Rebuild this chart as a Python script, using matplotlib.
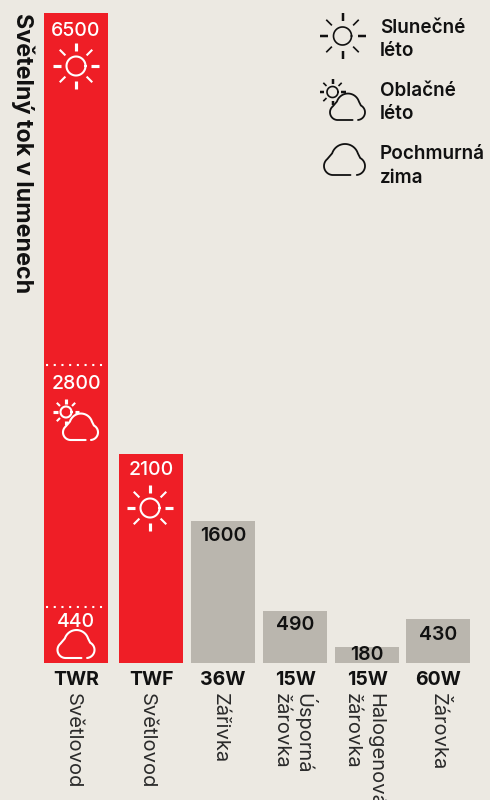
import numpy as np
import matplotlib
matplotlib.use('Agg')
import matplotlib.pyplot as plt

plt.rcParams['font.family'] = ['Inter', 'DejaVu Sans']

# data (the original bars are not drawn to scale,
# so the drawn heights are kept apart from the printed lumens)
categories = ['TWR', 'TWF', '36W', '15W', '15W', '60W']
lamp_types = [['Světlovod'], ['Světlovod'], ['Zářivka'], ['Úsporná', 'žárovka'],
              ['Halogenová', 'žárovka'], ['Žárovka']]
lumens = [6500, 2100, 1600, 490, 180, 430]
bar_heights = [650, 209, 142, 52, 16, 44]
twr_lumens = [2800, 440]
twr_heights = [298, 56]
legend_labels = [['Slunečné', 'léto'], ['Oblačné', 'léto'], ['Pochmurná', 'zima']]

BG = '#ECE9E2'
RED = '#EF1E26'
GREY = '#BAB6AE'
INK = '#111111'
BASE_Y = 663


def py(y):
    # picture row to axes y
    return BASE_Y - y


def draw_sun(ax, cx, cy, r, r1, r2, color, lw, z=5):
    ax.plot(cx + r * np.cos(np.linspace(0, 2 * np.pi, 80)),
            py(cy) + r * np.sin(np.linspace(0, 2 * np.pi, 80)), color=color, lw=lw, zorder=z)
    for i in range(8):
        a = i * np.pi / 4
        width = lw * 1.5 if i % 2 == 0 else lw
        ax.plot([cx + r1 * np.cos(a), cx + r2 * np.cos(a)],
                [py(cy) + r1 * np.sin(a), py(cy) + r2 * np.sin(a)],
                color=color, lw=width, solid_capstyle='butt', zorder=z)


def arc(cx, cy, r, start, end):
    t = np.radians(np.linspace(start, end, 40))
    return cx + r * np.cos(t), cy + r * np.sin(t)


def draw_cloud(ax, left, bottom, width, color, fill, lw, z=6):
    # outline built for a 41 wide cloud, then scaled
    parts = [arc(9, 9, 9, 270, 130), arc(21, 17.5, 13.5, 162, 18), arc(32, 9, 9, 62, -85)]
    xs = np.concatenate([[26.5]] + [p[0] for p in parts])
    ys = np.concatenate([[0]] + [p[1] for p in parts])
    s = width / 41
    ax.fill(left + xs * s, py(bottom) + ys * s, color=fill, lw=0, zorder=z)
    ax.plot(left + xs * s, py(bottom) + ys * s, color=color, lw=lw, zorder=z + 1,
            solid_capstyle='round')


fig = plt.figure(figsize=(4.9, 8), dpi=100, facecolor=BG)
ax = fig.add_axes([0, 0, 1, 1])
ax.set_xlim(0, 490)
ax.set_ylim(-137, 663)
ax.axis('off')

# bars
centers = [76, 151, 223, 295, 367, 438]
colors = [RED, RED, GREY, GREY, GREY, GREY]
ax.bar(centers, bar_heights, width=64, color=colors, linewidth=0)

# value labels
drops = [16, 14, 13, 12, 6, 14]
for i, v in enumerate(lumens):
    c = 'white' if colors[i] == RED else INK
    w = 'medium' if colors[i] == RED else 'semibold'
    ax.text(centers[i], bar_heights[i] - drops[i], str(v), color=c, fontsize=14,
            weight=w, ha='center', va='center_baseline')

# TWR tiers
tier_drops = [17, 13]
for v, h, d in zip(twr_lumens, twr_heights, tier_drops):
    ax.plot([46, 103], [h, h], color='white', lw=1.5, linestyle=(0, (1, 2.7)), zorder=4)
    ax.text(centers[0], h - d, str(v), color='white', fontsize=14, weight='medium',
            ha='center', va='center_baseline')

# category and type labels
for i, name in enumerate(categories):
    ax.text(centers[i], py(678), name, color=INK, fontsize=14, weight='bold',
            ha='center', va='center_baseline')
sub_x = [[73], [147], [220], [305, 281], [376, 352], [438]]
for i, lines in enumerate(lamp_types):
    for x, line in zip(sub_x[i], lines):
        ax.text(x, py(693), line, color='#2a2a2a', fontsize=14.5, rotation=270,
                ha='center', va='top', weight='normal')

# axis title
ax.text(23, py(13), 'Světelný tok v lumenech', color=INK, fontsize=16.8, weight='bold',
        rotation=270, ha='center', va='top')

# icons on the bars
draw_sun(ax, 76, 66, 9.5, 15, 23, 'white', 1.5)
draw_sun(ax, 150, 508, 9.5, 15, 23, 'white', 1.5)
draw_sun(ax, 66, 412, 5.5, 8.5, 13, 'white', 1.5)
draw_cloud(ax, 63, 440, 35, 'white', RED, 1.5)
draw_cloud(ax, 57.5, 658, 37, 'white', RED, 1.5)

# legend
draw_sun(ax, 342.5, 36, 9, 15, 23, INK, 1.2)
draw_sun(ax, 332.5, 92, 5.5, 8.5, 13, INK, 1.2)
draw_cloud(ax, 330, 120, 35, INK, BG, 1.3)
draw_cloud(ax, 324, 175, 41, INK, BG, 1.3)
legend_rows = [[26, 49], [89, 112], [152, 176]]
for lines, rows in zip(legend_labels, legend_rows):
    for line, row in zip(lines, rows):
        ax.text(380, py(row), line, color=INK, fontsize=13.6, weight='semibold',
                ha='left', va='center_baseline')

fig.savefig('out.png', dpi=100, facecolor=BG)
